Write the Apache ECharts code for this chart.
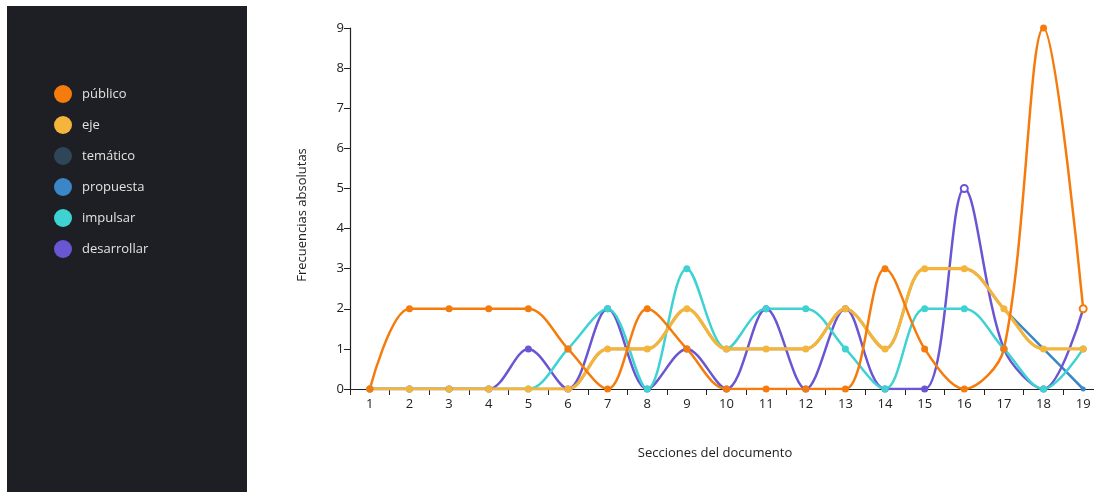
<!DOCTYPE html>
<html>
<head>
<meta charset="utf-8">
<script src="https://cdn.jsdelivr.net/npm/echarts@6/dist/echarts.min.js"></script>
<style>
html,body{margin:0;padding:0;background:#fff;overflow:hidden;width:1094px;height:492px;}
#chart{width:1110px;height:492px;}
</style>
</head>
<body>
<div id="chart"></div>
<script>
const categories = ['1','2','3','4','5','6','7','8','9','10','11','12','13','14','15','16','17','18','19'];
const yTicks = [0,1,2,3,4,5,6,7,8,9];
const seriesNames = ['público','eje','temático','propuesta','impulsar','desarrollar'];
const publico     = [0,2,2,2,2,1,0,2,1,0,0,0,0,3,1,0,1,9,2];
const eje         = [0,0,0,0,0,0,1,1,2,1,1,1,2,1,3,3,2,1,1];
const tematico    = [0,0,0,0,0,0,1,1,2,1,1,1,2,1,3,3,2,1,1];
const propuesta   = [0,0,0,0,0,0,1,1,2,1,1,1,2,1,3,3,2,1,0];
const impulsar    = [0,0,0,0,0,1,2,0,3,1,2,2,1,0,2,2,1,0,1];
const desarrollar = [0,0,0,0,1,0,2,0,1,0,2,0,2,0,0,5,1,0,2];

const valuesByName = {
  'público': publico, 'eje': eje, 'temático': tematico,
  'propuesta': propuesta, 'impulsar': impulsar, 'desarrollar': desarrollar
};
const colors = {
  'público': '#f57c0c', 'eje': '#f5b53c', 'temático': '#2f4658',
  'propuesta': '#3a86c6', 'impulsar': '#3ed3d2', 'desarrollar': '#6a55d2'
};
const widths = {
  'público': 2.5, 'eje': 3.2, 'temático': 2, 'propuesta': 2.5, 'impulsar': 2.5, 'desarrollar': 2.5
};
const symbolSizes = {
  'público': 7, 'eje': 7, 'temático': 4, 'propuesta': 5, 'impulsar': 7, 'desarrollar': 7
};
// markers drawn hollow in the reference
const hollow = { 'público': [18], 'desarrollar': [15] };
// drawing order (bottom to top)
const drawOrder = ['temático','propuesta','desarrollar','impulsar','eje','público'];

const FONT = "'Open Sans', 'Noto Sans', sans-serif";

const series = drawOrder.map(name => ({
  name: name,
  type: 'line',
  smooth: 0.333,
  symbol: 'circle',
  symbolSize: symbolSizes[name],
  showSymbol: true,
  lineStyle: { width: widths[name], color: colors[name] },
  itemStyle: { color: colors[name] },
  data: valuesByName[name].map((v, i) => {
    if (hollow[name] && hollow[name].indexOf(i) >= 0) {
      return { value: v, itemStyle: { color: '#ffffff', borderColor: colors[name], borderWidth: 2 } };
    }
    return v;
  }),
  animation: false
}));

const chart = echarts.init(document.getElementById('chart'), null, { renderer: 'canvas' });
chart.setOption({
  animation: false,
  color: seriesNames.map(n => colors[n]),
  graphic: [
    { type: 'rect', z: -10, shape: { x: 7, y: 6, width: 240, height: 486 }, style: { fill: '#1e1f24' } },
    { type: 'text', x: 302, y: 215, rotation: Math.PI / 2,
      style: { text: 'Frecuencias absolutas', fill: '#222', font: '13px ' + FONT, align: 'center', verticalAlign: 'middle' } },
    { type: 'text', x: 715, y: 453,
      style: { text: 'Secciones del documento', fill: '#222', font: '13px ' + FONT, align: 'center', verticalAlign: 'middle' } }
  ],
  legend: {
    data: seriesNames.map(n => ({ name: n, icon: 'circle' })),
    orient: 'vertical',
    left: 49,
    top: 80,
    itemWidth: 28,
    itemHeight: 18,
    itemGap: 13,
    textStyle: { color: '#e2e2e2', fontSize: 13, fontFamily: FONT },
    selectedMode: false
  },
  grid: { left: 350, right: 7, top: 28, bottom: 103, containLabel: false },
  xAxis: {
    type: 'category',
    data: categories,
    boundaryGap: true,
    axisLine: { lineStyle: { color: '#222', width: 1.2 } },
    axisTick: { show: true, length: 6, lineStyle: { color: '#222' } },
    axisLabel: { color: '#222', fontSize: 13, fontFamily: FONT, margin: 9 },
    splitLine: { show: false }
  },
  yAxis: {
    type: 'value',
    min: yTicks[0],
    max: yTicks[yTicks.length - 1],
    interval: 1,
    axisLine: { show: true, lineStyle: { color: '#222', width: 1.2 } },
    axisTick: { show: true, length: 6, lineStyle: { color: '#222' } },
    axisLabel: { color: '#222', fontSize: 13, fontFamily: FONT, margin: 6 },
    splitLine: { show: false }
  },
  series: series
});
</script>
</body>
</html>
